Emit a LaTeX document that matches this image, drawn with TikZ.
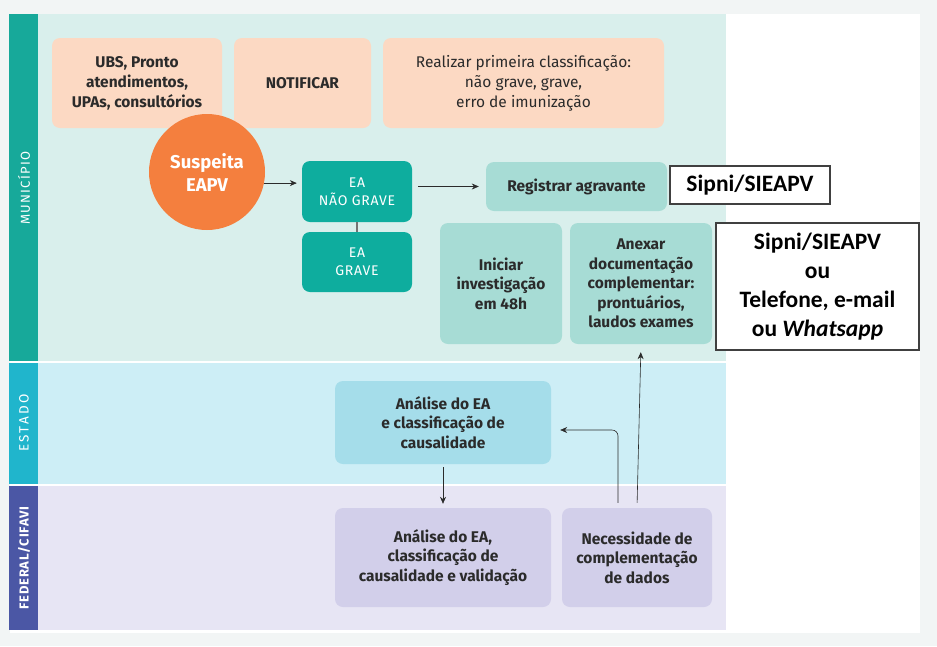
\documentclass[tikz,border=0pt]{standalone}
\usepackage{fontspec}
\setmainfont{Fira Sans}
\newfontfamily\sipnifont{Carlito}
\usetikzlibrary{arrows.meta}

\definecolor{outerbg}{HTML}{F2F5F5}
\definecolor{munibg}{HTML}{D9EFEC}
\definecolor{munistrip}{HTML}{17A99A}
\definecolor{estadobg}{HTML}{CDEEF6}
\definecolor{estadostrip}{HTML}{20B5CC}
\definecolor{fedbg}{HTML}{E7E5F4}
\definecolor{fedstrip}{HTML}{4B57A5}
\definecolor{peach}{HTML}{FCD9C3}
\definecolor{suspeitaorange}{HTML}{F47F3E}
\definecolor{eateal}{HTML}{0EAD9E}
\definecolor{lightteal}{HTML}{A7DCD5}
\definecolor{estadobox}{HTML}{A5DDEA}
\definecolor{fedbox}{HTML}{D2CFEA}
\definecolor{textdark}{HTML}{2B2B2B}

\begin{document}
\begin{tikzpicture}[x=1pt, y=-1pt,
    box/.style={shape=rectangle, rounded corners=8pt, inner sep=0pt, align=center, text=textdark, font=\bfseries\fontsize{15.5}{19.5}\selectfont},
    peachbox/.style={box, fill=peach},
    eabox/.style={box, fill=eateal, text=white, font=\fontsize{14}{18}\selectfont\addfontfeatures{LetterSpace=5}},
    tealbox/.style={box, fill=lightteal},
    estbox/.style={box, fill=estadobox},
    fbox/.style={box, fill=fedbox},
    sipnibox/.style={draw=black!75, line width=1.2pt, fill=white, shape=rectangle, inner sep=0pt, align=center, font=\sipnifont\bfseries\fontsize{23.5}{29}\selectfont},
    lanelabel/.style={rotate=90, text=white, font=\fontsize{13}{15}\selectfont\addfontfeatures{LetterSpace=10}},
    arr/.style={-{Stealth[length=7pt, width=6pt]}, line width=0.6pt, draw=textdark}]
  \useasboundingbox (0,0) rectangle (937,646);
  \fill[outerbg] (0,0) rectangle (937,646);
  \fill[white] (10,14) rectangle (920,633);

  % lanes
  \fill[munibg] (38,14) rectangle (726,361);
  \fill[estadobg] (38,363) rectangle (726,484);
  \fill[fedbg] (38,486) rectangle (726,630);
  \fill[munistrip] (9,14) rectangle (38,361);
  \fill[estadostrip] (9,363) rectangle (38,484);
  \fill[fedstrip] (9,486) rectangle (38,630);
  \node[lanelabel] (l_muni) at (24,188) {MUNICÍPIO};
  \node[lanelabel, font=\fontsize{13.5}{15}\selectfont\addfontfeatures{LetterSpace=16}] (l_estado) at (24,423) {ESTADO};
  \node[lanelabel, font=\bfseries\fontsize{13}{15}\selectfont\addfontfeatures{LetterSpace=6}] (l_fed) at (24,558) {FEDERAL/CIFAVI};

  % municipio
  \node[peachbox, minimum width=170pt, minimum height=90pt, font=\bfseries\fontsize{15.5}{20}\selectfont] (ubs) at (137,83) {UBS, Pronto\\atendimentos,\\UPAs, consultórios};
  \node[peachbox, minimum width=137pt, minimum height=90pt, font=\bfseries\fontsize{15.5}{20}\selectfont] (notificar) at (302.5,83) {NOTIFICAR};
  \node[peachbox, minimum width=281pt, minimum height=90pt, font=\fontsize{15.5}{20}\selectfont] (realizar) at (523.5,83) {Realizar primeira classificação:\\não grave, grave,\\erro de imunização};

  \node[shape=circle, fill=suspeitaorange, text=white, minimum size=116pt, inner sep=0pt, align=center, font=\bfseries\fontsize{18.5}{23}\selectfont] (suspeita) at (207,172) {Suspeita\\EAPV};

  \node[eabox, minimum width=110pt, minimum height=61pt] (ea_naograve) at (357,191.5) {EA\\NÃO GRAVE};
  \node[eabox, minimum width=110pt, minimum height=60pt] (ea_grave) at (357,262) {EA\\GRAVE};

  \node[tealbox, minimum width=181pt, minimum height=49pt] (registrar) at (576.5,186.5) {Registrar agravante};
  \node[sipnibox, minimum width=160pt, minimum height=38pt] (sipni_a) at (750,185) {Sipni/SIEAPV};

  \node[tealbox, minimum width=122pt, minimum height=121pt] (iniciar) at (501,283.5) {Iniciar\\investigação\\em 48h};
  \node[tealbox, minimum width=142pt, minimum height=121pt] (anexar) at (641,283.5) {Anexar\\documentação\\complementar:\\prontuários,\\laudos exames};
  \node[sipnibox, minimum width=203pt, minimum height=127pt] (sipni_b) at (817.5,286.5) {Sipni/SIEAPV\\ou\\Telefone, e-mail\\ou \textit{Whatsapp}};

  % estado
  \node[estbox, minimum width=216pt, minimum height=83pt] (analise_est) at (443,422.5) {Análise do EA\\e classificação de\\causalidade};

  % federal
  \node[fbox, minimum width=216pt, minimum height=99pt] (analise_fed) at (443,557.5) {Análise do EA,\\classificação de\\causalidade e validação};
  \node[fbox, minimum width=150pt, minimum height=99pt] (necessidade) at (637,557.5) {Necessidade de\\complementação\\de dados};

  \draw[arr, shorten >=5pt] (suspeita.-11) -- (suspeita.-11 -| ea_naograve.west);
  \draw[line width=1.5pt, draw=black!55] (ea_naograve) -- (ea_grave);
  \draw[arr, shorten <=6pt, shorten >=7pt] (registrar.west -| ea_naograve.east) -- (registrar.west);
  \draw[arr, shorten <=3pt, shorten >=4pt] (analise_est.south) -- (analise_fed.north);
  \draw[arr, shorten <=5pt, shorten >=8pt] (necessidade.north) -- (anexar.south);
  \draw[arr, rounded corners=6pt, shorten <=5pt, shorten >=9pt] ([xshift=-19pt]necessidade.north) |- ([yshift=-7.5pt]analise_est.east);
\end{tikzpicture}
\end{document}
